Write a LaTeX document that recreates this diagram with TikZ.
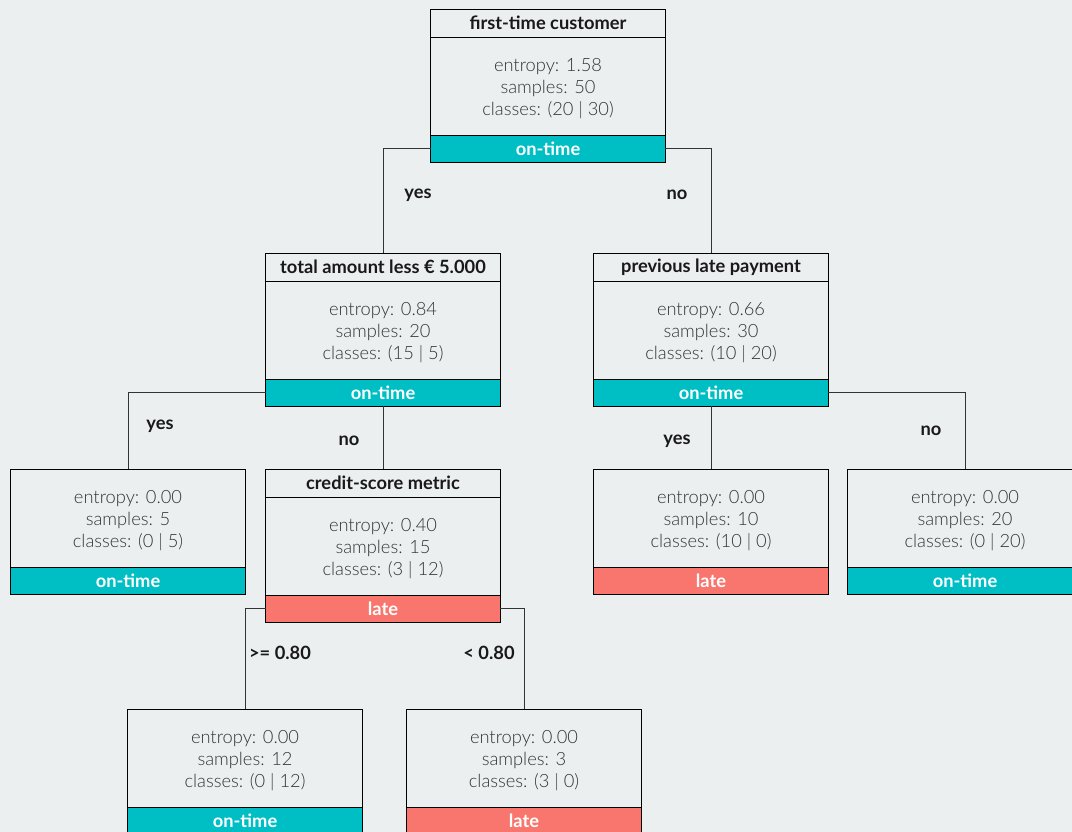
\documentclass[tikz,border=0pt]{standalone}
\usepackage{fontspec}
\setmainfont{Lato}[UprightFont=* Light, BoldFont=* Bold]
\usepackage{xcolor}
\usepackage{tikz}
\usetikzlibrary{positioning}
\definecolor{canvas}{HTML}{ECEFF0}
\definecolor{ontime}{HTML}{00BFC4}
\definecolor{late}{HTML}{F8766D}
\definecolor{ink}{HTML}{333333}
\newcommand{\treebody}[5]{%
    % #1=name, #2=top point, #3=body lines, #4=fill, #5=class
    \node[bodybox, anchor=north, label={[bodytext]center:#3}] (#1) at (#2) {};
    \node[classbox, fill=#4, below=0pt of #1] (#1c) {#5};
}

\begin{document}
\begin{tikzpicture}[x=0.025cm, y=-0.025cm,
    every node/.style={outer sep=0pt},
    headbox/.style={rectangle, draw=black, line width=0.7pt, minimum width=5.85cm, minimum height=0.7cm, inner sep=0pt, font=\fontsize{13}{15}\selectfont\bfseries, text=black!90},
    bodybox/.style={rectangle, draw=black, line width=0.7pt, minimum width=5.85cm, minimum height=2.45cm, inner sep=0pt},
    bodytext/.style={inner sep=0pt, yshift=-2pt, align=center, font=\fontsize{13}{15.6}\selectfont, text=ink},
    classbox/.style={rectangle, draw=black, line width=0.7pt, minimum width=5.85cm, minimum height=0.675cm, inner sep=0pt, font=\fontsize{13}{15}\selectfont\bfseries, text=white},
    branch/.style={draw=black!80, line width=0.7pt},
    answer/.style={yshift=-2pt, font=\fontsize{13}{15}\selectfont\bfseries, text=black!90}
]
    \fill[canvas] (0,0) rectangle (1072,832);
    \useasboundingbox (0,0) rectangle (1072,832);
    \clip (0,0) rectangle (1072,832);

    % root
    \node[headbox, anchor=north] (rooth) at (548,9) {first-time customer};
    \treebody{root}{rooth.south}{entropy: 1.58\\samples: 50\\classes: (20 | 30)}{ontime}{on-time}

    % first level
    \node[headbox, anchor=north] (amounth) at (383,253) {total amount less € 5.000};
    \treebody{amount}{amounth.south}{entropy: 0.84\\samples: 20\\classes: (15 | 5)}{ontime}{on-time}
    \node[headbox, anchor=north] (prevh) at (711,253) {previous late payment};
    \treebody{prev}{prevh.south}{entropy: 0.66\\samples: 30\\classes: (10 | 20)}{ontime}{on-time}

    % second level
    \treebody{leafa}{128,469}{entropy: 0.00\\samples: 5\\classes: (0 | 5)}{ontime}{on-time}
    \node[headbox, anchor=north] (credith) at (383,469) {credit-score metric};
    \treebody{credit}{credith.south}{entropy: 0.40\\samples: 15\\classes: (3 | 12)}{late}{late}
    \treebody{leafb}{711,469}{entropy: 0.00\\samples: 10\\classes: (10 | 0)}{late}{late}
    \treebody{leafc}{965,469}{entropy: 0.00\\samples: 20\\classes: (0 | 20)}{ontime}{on-time}

    % third level
    \treebody{leafd}{245,709}{entropy: 0.00\\samples: 12\\classes: (0 | 12)}{ontime}{on-time}
    \treebody{leafe}{524,709}{entropy: 0.00\\samples: 3\\classes: (3 | 0)}{late}{late}

    % branches
    \draw[branch] (rootc.west) -| (amounth.north);
    \draw[branch] (rootc.east) -| (prevh.north);
    \draw[branch] (amountc.west) -| (leafa.north);
    \draw[branch] (amountc.south) -- (credith.north);
    \draw[branch] (prevc.south) -- (leafb.north);
    \draw[branch] (prevc.east) -| (leafc.north);
    \draw[branch] (creditc.west) -| (leafd.north);
    \draw[branch] (creditc.east) -| (leafe.north);

    % branch answers
    \node[answer] (ans1) at (418,192) {yes};
    \node[answer] (ans2) at (677,192) {no};
    \node[answer] (ans3) at (160,423) {yes};
    \node[answer] (ans4) at (349,438) {no};
    \node[answer] (ans5) at (677,438) {yes};
    \node[answer] (ans6) at (931,428) {no};
    \node[answer] (ans7) at (280,650) {>= 0.80};
    \node[answer] (ans8) at (489,650) {< 0.80};
\end{tikzpicture}
\end{document}
